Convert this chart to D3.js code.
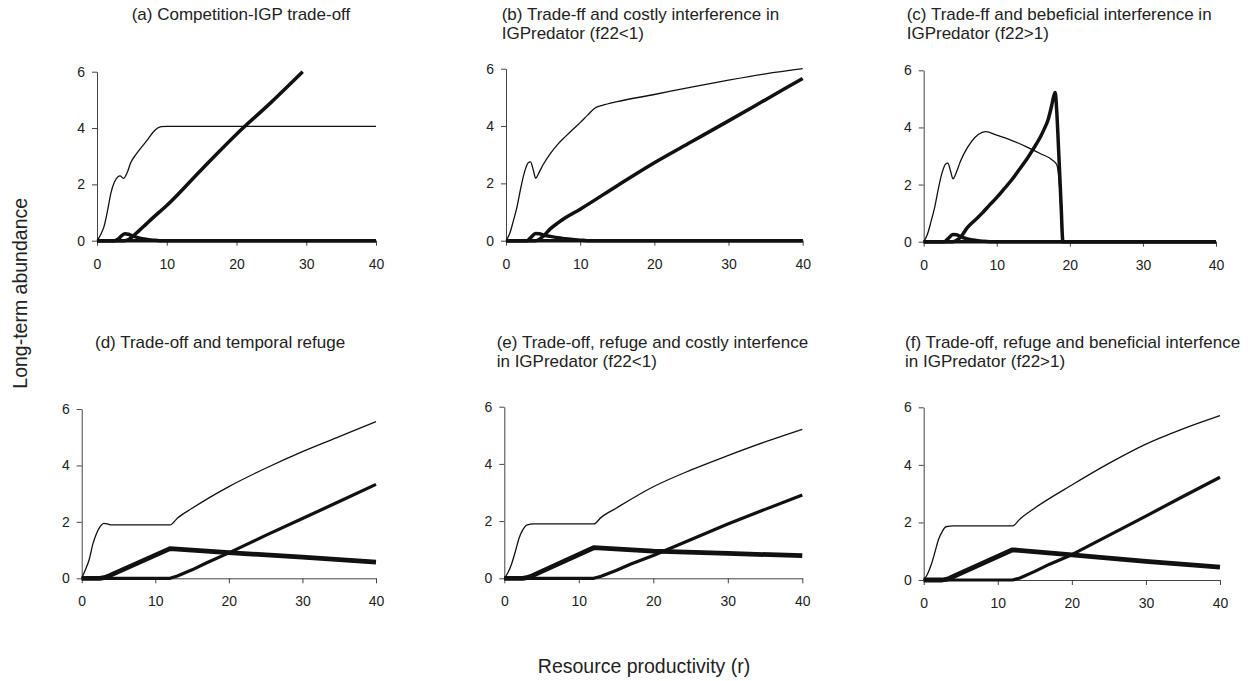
<!DOCTYPE html>
<html><head><meta charset="utf-8">
<script src="https://cdn.jsdelivr.net/npm/d3@7"></script>
<style>
body{margin:0;background:#fff;}
text{font-family:"Liberation Sans",Arial,sans-serif;}
</style></head><body>
<svg id="c" width="1256" height="681"></svg>
<script>
// ---------- tick labels ----------
const xTicks = [0, 10, 20, 30, 40];
const yTicks = [0, 2, 4, 6];

// ---------- titles ----------
const titleA = ["(a) Competition-IGP trade-off"];
const titleB = ["(b) Trade-ff and costly interference in", "IGPredator (f22<1)"];
const titleC = ["(c) Trade-ff and bebeficial interference in", "IGPredator (f22>1)"];
const titleD = ["(d) Trade-off and temporal refuge"];
const titleE = ["(e) Trade-off, refuge and costly interfence", "in IGPredator (f22<1)"];
const titleF = ["(f) Trade-off, refuge and beneficial interfence", "in IGPredator (f22>1)"];
const xLabel = "Resource productivity (r)";
const yLabel = "Long-term abundance";

// ---------- panel (a) ----------
const aThinR  = [0, 0.5, 1, 1.5, 2, 2.5, 3, 3.3, 3.8, 4.3, 4.8, 5.7, 7.2, 8.1, 8.7, 9.2, 10, 40];
const aThinV  = [0, 0.2, 0.5, 1.05, 1.7, 2.08, 2.27, 2.3, 2.21, 2.4, 2.75, 3.1, 3.57, 3.87, 4.0, 4.05, 4.06, 4.06];
const aThickR = [0, 4, 4.5, 5, 6, 7, 8, 10, 15, 20, 25, 29.5];
const aThickV = [0, 0, 0.04, 0.13, 0.35, 0.58, 0.81, 1.25, 2.53, 3.78, 4.92, 6.0];
const aBumpR  = [0, 2.5, 3, 3.5, 4, 4.5, 5, 6, 7, 8, 9, 40];
const aBumpV  = [0, 0, 0.05, 0.17, 0.25, 0.23, 0.18, 0.1, 0.05, 0.02, 0, 0];
const aZeroR  = [0, 40];
const aZeroV  = [0, 0];

// ---------- panel (b) ----------
const bThinR  = [0, 0.5, 1, 1.5, 2, 2.5, 3, 3.3, 3.7, 4, 4.5, 5, 6, 7, 8, 9, 10, 11, 12, 13, 15, 20, 25, 30, 35, 40];
const bThinV  = [0, 0.25, 0.7, 1.2, 1.85, 2.4, 2.72, 2.75, 2.45, 2.18, 2.4, 2.65, 3.05, 3.37, 3.63, 3.88, 4.12, 4.38, 4.63, 4.72, 4.85, 5.1, 5.36, 5.6, 5.82, 6.0];
const bThickR = [0, 4, 4.5, 5, 6, 7, 8, 10, 15, 20, 25, 30, 35, 40];
const bThickV = [0, 0, 0.05, 0.15, 0.42, 0.62, 0.8, 1.1, 1.92, 2.72, 3.45, 4.18, 4.92, 5.66];
const bBumpR  = [0, 2.8, 3.3, 4, 4.5, 5, 6, 7, 8, 9, 10, 11, 40];
const bBumpV  = [0, 0, 0.1, 0.25, 0.24, 0.2, 0.15, 0.1, 0.07, 0.04, 0.02, 0, 0];
const bZeroR  = [0, 40];
const bZeroV  = [0, 0];

// ---------- panel (c) ----------
const cThinR  = [0, 0.5, 1, 1.5, 2, 2.5, 3, 3.3, 3.7, 4, 4.5, 5, 6, 7, 8, 8.5, 10, 12, 14, 16, 17.5, 18.2, 18.6, 19, 40];
const cThinV  = [0, 0.25, 0.7, 1.2, 1.85, 2.4, 2.72, 2.75, 2.45, 2.2, 2.45, 2.8, 3.3, 3.65, 3.83, 3.85, 3.73, 3.55, 3.33, 3.08, 2.88, 2.7, 1.9, 0, 0];
const cThickR = [0, 4, 4.5, 5, 6, 7, 8, 9, 10, 11, 12, 13, 14, 15, 16, 16.5, 17, 17.5, 17.8, 18, 18.2, 18.5, 18.8, 19.05, 40];
const cThickV = [0, 0, 0.05, 0.15, 0.5, 0.75, 1.0, 1.28, 1.55, 1.85, 2.15, 2.5, 2.85, 3.25, 3.68, 3.95, 4.25, 4.75, 5.1, 5.22, 4.6, 3.0, 1.3, 0, 0];
const cBumpR  = [0, 2.8, 3.3, 4, 4.5, 5, 6, 7, 8, 9, 40];
const cBumpV  = [0, 0, 0.1, 0.25, 0.24, 0.18, 0.1, 0.05, 0.02, 0, 0];
const cZeroR  = [0, 40];
const cZeroV  = [0, 0];

// ---------- panel (d) ----------
const dThinR  = [0, 0.5, 1, 1.5, 2, 2.5, 3, 3.5, 4, 12, 13, 15, 20, 25, 30, 35, 40];
const dThinV  = [0, 0.3, 0.65, 1.2, 1.58, 1.83, 1.95, 1.93, 1.89, 1.89, 2.13, 2.48, 3.25, 3.9, 4.49, 5.02, 5.55];
const dPredR  = [0, 2.5, 3, 3.5, 4, 12, 20, 30, 40];
const dPredV  = [0, 0, 0.02, 0.06, 0.12, 1.05, 0.91, 0.75, 0.57];
const dLateR  = [0, 12, 13, 15, 17, 20, 25, 30, 35, 40];
const dLateV  = [0, 0, 0.08, 0.3, 0.55, 0.9, 1.52, 2.12, 2.72, 3.33];

// ---------- panel (e) ----------
const eThinR  = [0, 0.5, 1, 1.5, 2, 2.5, 3, 4, 12, 13, 15, 20, 25, 30, 35, 40];
const eThinV  = [0, 0.2, 0.52, 0.95, 1.42, 1.7, 1.86, 1.9, 1.9, 2.13, 2.45, 3.2, 3.78, 4.29, 4.77, 5.21];
const ePredR  = [0, 2.5, 3, 3.5, 4, 12, 20, 30, 40];
const ePredV  = [0, 0, 0.02, 0.06, 0.12, 1.07, 0.95, 0.87, 0.79];
const eLateR  = [0, 12, 13, 15, 17, 20, 25, 30, 35, 40];
const eLateV  = [0, 0, 0.07, 0.27, 0.5, 0.8, 1.35, 1.9, 2.41, 2.91];

// ---------- panel (f) ----------
const fThinR  = [0, 0.5, 1, 1.5, 2, 2.5, 3, 4, 12, 13, 15, 20, 25, 30, 35, 40];
const fThinV  = [0, 0.2, 0.52, 0.95, 1.41, 1.68, 1.85, 1.88, 1.88, 2.12, 2.5, 3.3, 4.05, 4.72, 5.25, 5.71];
const fPredR  = [0, 2.5, 3, 3.5, 4, 12, 20, 30, 40];
const fPredV  = [0, 0, 0.02, 0.06, 0.12, 1.05, 0.87, 0.65, 0.45];
const fLateR  = [0, 12, 13, 15, 17, 20, 25, 30, 35, 40];
const fLateV  = [0, 0, 0.07, 0.3, 0.55, 0.88, 1.55, 2.22, 2.9, 3.57];

// ---------- layout ----------
const panels = [
  {x0: 97,    x1: 376,    y0: 240.7, y1: 71.7,  tx: 131.7, ty: 19.5,  title: titleA,
   series: [[aZeroR, aZeroV, 3.5, 0], [aBumpR, aBumpV, 3.5, 1], [aThickR, aThickV, 3.5, 1], [aThinR, aThinV, 1.3, 1]]},
  {x0: 506,   x1: 802.7,  y0: 240.7, y1: 68.7,  tx: 501.7, ty: 19.5,  title: titleB,
   series: [[bZeroR, bZeroV, 3.5, 0], [bBumpR, bBumpV, 3.5, 1], [bThickR, bThickV, 3.5, 1], [bThinR, bThinV, 1.3, 1]]},
  {x0: 923.7, x1: 1216,   y0: 241.7, y1: 70.3,  tx: 906.7, ty: 19.5,  title: titleC,
   series: [[cZeroR, cZeroV, 3.5, 0], [cBumpR, cBumpV, 3.5, 1], [cThickR, cThickV, 3.5, 1], [cThinR, cThinV, 1.3, 1]]},
  {x0: 81.7,  x1: 376,    y0: 578.3, y1: 409,   tx: 95,    ty: 347.5, title: titleD,
   series: [[dLateR, dLateV, 3.2, 0], [dPredR, dPredV, 4.8, 0], [dThinR, dThinV, 1.3, 1]]},
  {x0: 504.3, x1: 802.3,  y0: 578.3, y1: 406.7, tx: 496.7, ty: 347.5, title: titleE,
   series: [[eLateR, eLateV, 3.2, 0], [ePredR, ePredV, 4.8, 0], [eThinR, eThinV, 1.3, 1]]},
  {x0: 923.7, x1: 1220,   y0: 580,   y1: 407.3, tx: 905,   ty: 347.5, title: titleF,
   series: [[fLateR, fLateV, 3.2, 0], [fPredR, fPredV, 4.8, 0], [fThinR, fThinV, 1.3, 1]]}
];

const svg = d3.select("#c");

panels.forEach(p => {
  const x = d3.scaleLinear().domain([0, 40]).range([p.x0, p.x1]);
  const y = d3.scaleLinear().domain([0, 6]).range([p.y0, p.y1]);
  const g = svg.append("g");

  const gx = g.append("g").attr("transform", `translate(0,${p.y0})`)
    .call(d3.axisBottom(x).tickValues(xTicks).tickFormat(d3.format("d"))
      .tickSize(5).tickPadding(13).tickSizeOuter(0));
  const gy = g.append("g").attr("transform", `translate(${p.x0},0)`)
    .call(d3.axisLeft(y).tickValues(yTicks).tickFormat(d3.format("d"))
      .tickSize(5).tickPadding(7).tickSizeOuter(0));
  [gx, gy].forEach(a => {
    a.attr("font-family", null).attr("font-size", null);
    a.selectAll("text").attr("fill", "#222").style("font-size", "14px")
      .style("font-family", '"Liberation Sans", Arial, sans-serif');
    a.selectAll("line").attr("stroke", "#444");
    a.select(".domain").attr("stroke", "#444");
  });

  const smooth = d3.line().x(d => x(d[0])).y(d => y(d[1])).curve(d3.curveMonotoneX);
  const straight = d3.line().x(d => x(d[0])).y(d => y(d[1]));
  p.series.forEach(([rs, vs, w, curved]) => {
    g.append("path")
      .datum(rs.map((r, i) => [r, vs[i]]))
      .attr("d", curved ? smooth : straight)
      .attr("fill", "none")
      .attr("stroke", "#111")
      .attr("stroke-width", w)
      .attr("stroke-linejoin", "round");
  });

  const t = g.append("text").attr("x", p.tx).attr("y", p.ty)
    .attr("fill", "#222").style("font-size", "17px");
  p.title.forEach((s, i) => {
    t.append("tspan").attr("x", p.tx).attr("y", p.ty + i * 19.5).text(s);
  });
});

svg.append("text").attr("x", 644).attr("y", 673).attr("text-anchor", "middle")
  .attr("fill", "#222").style("font-size", "19.5px").text(xLabel);
svg.append("text").attr("transform", "translate(27,293.3) rotate(-90)").attr("text-anchor", "middle")
  .attr("fill", "#222").style("font-size", "19.5px").text(yLabel);
</script>
</body></html>
